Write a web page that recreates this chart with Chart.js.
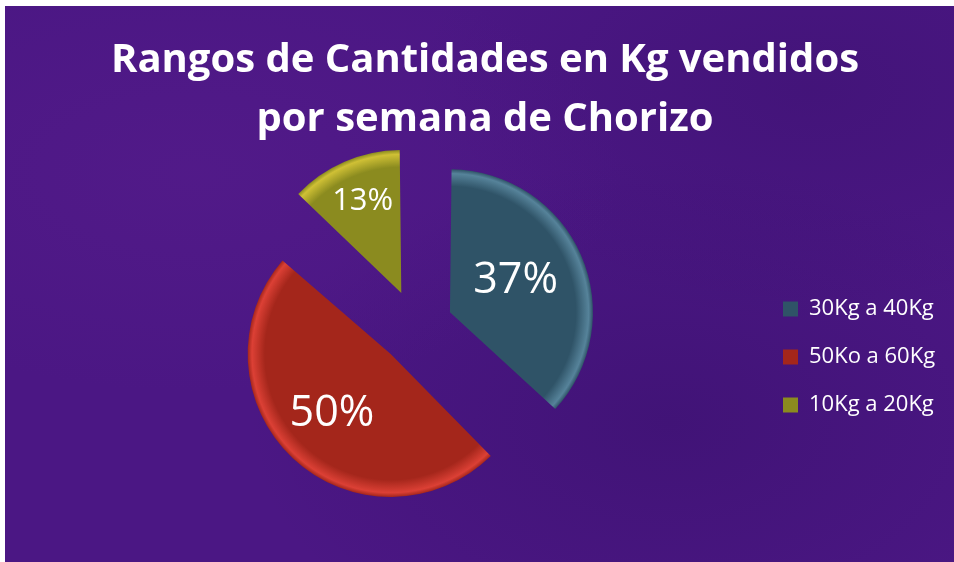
<!DOCTYPE html>
<html>
<head>
<meta charset="utf-8">
<script src="https://cdn.jsdelivr.net/npm/chart.js@4/dist/chart.umd.min.js"></script>
<style>
  body { margin: 0; background: #ffffff; }
  #marco {
    position: absolute; left: 5px; top: 6px; width: 949px; height: 556px;
    background-color: #4b1784;
    background-image:
      radial-gradient(ellipse at 20% 30%, rgba(100, 35, 150, 0.25), rgba(0, 0, 0, 0) 40%),
      radial-gradient(ellipse at 70% 75%, rgba(35, 8, 80, 0.25), rgba(0, 0, 0, 0) 45%),
      radial-gradient(ellipse at 85% 15%, rgba(35, 8, 80, 0.2), rgba(0, 0, 0, 0) 35%);
  }
</style>
</head>
<body>
<div id="marco"><canvas id="grafico"></canvas></div>
<script>
// datos
var titulo = ['Rangos de Cantidades en Kg vendidos', 'por semana de Chorizo'];
var rangos = ['30Kg a 40Kg', '50Ko a 60Kg', '10Kg a 20Kg'];
var porcentajes = [37, 50, 13];

// colores de cada rebanada
var colores = ['#2f5367', '#a4261b', '#8b8b1f'];
var bordes = ['#56839a', '#dc4035', '#cfc035'];

// posicion y tamaño de las etiquetas de porcentaje
var etiquetaRadio = [0.5, 0.6, 0.68];
var etiquetaFuente = [43, 43, 31];

var separacion = 37; // px que se separa cada rebanada
var fuenteLeyenda = 22;
var padLeyenda = 26;

// degradado radial para dar efecto de relieve
function relleno(context) {
  var chart = context.chart;
  var area = chart.chartArea;
  var base = colores[context.dataIndex];
  if (!area) { return base; }
  var cx = (area.left + area.right) / 2;
  var cy = (area.top + area.bottom) / 2;
  var g = chart.ctx.createRadialGradient(cx, cy, 0, cx, cy, 143);
  g.addColorStop(0, base);
  g.addColorStop(0.88, base);
  g.addColorStop(0.97, bordes[context.dataIndex]);
  g.addColorStop(1, base);
  return g;
}

// el offset de Chart.js agranda la rebanada, se corrige el radio
var corregirRadio = {
  id: 'corregirRadio',
  afterDatasetsUpdate: function (chart) {
    var meta = chart.getDatasetMeta(0);
    meta.data.forEach(function (arc) {
      var off = (arc.options.offset || 0) / 4;
      var fix = 1 - Math.sin(Math.min(Math.PI, arc.circumference));
      arc.outerRadius = arc.outerRadius - off * fix;
    });
  }
};

// titulo en dos lineas
var tituloPlugin = {
  id: 'tituloPlugin',
  afterDraw: function (chart) {
    var ctx = chart.ctx;
    ctx.save();
    ctx.fillStyle = '#ffffff';
    ctx.textAlign = 'center';
    ctx.textBaseline = 'alphabetic';
    ctx.font = 'bold 40px "Open Sans"';
    titulo.forEach(function (linea, i) {
      ctx.fillText(linea, 480, 66 + i * 59);
    });
    ctx.restore();
  }
};

// etiquetas de porcentaje dentro de cada rebanada
var etiquetas = {
  id: 'etiquetas',
  afterDatasetsDraw: function (chart) {
    var ctx = chart.ctx;
    var meta = chart.getDatasetMeta(0);
    var total = porcentajes.reduce(function (a, b) { return a + b; }, 0);
    ctx.save();
    ctx.fillStyle = '#ffffff';
    ctx.textAlign = 'center';
    ctx.textBaseline = 'middle';
    meta.data.forEach(function (arc, i) {
      var mitad = (arc.startAngle + arc.endAngle) / 2;
      var off = (arc.options.offset || 0) / 4;
      var radioReal = arc.outerRadius + off * (1 - Math.sin(Math.min(Math.PI, arc.circumference)));
      var d = off + radioReal * etiquetaRadio[i];
      var x = arc.x + Math.cos(mitad) * d;
      var y = arc.y + Math.sin(mitad) * d - 3;
      ctx.font = etiquetaFuente[i] + 'px "Open Sans"';
      ctx.fillText(Math.round(porcentajes[i] / total * 100) + '%', x, y);
    });
    ctx.restore();
  }
};

function crear() {
  // ancho de la leyenda para dejarla en su lugar (x = 778)
  var medidor = document.createElement('canvas').getContext('2d');
  medidor.font = fuenteLeyenda + 'px "Open Sans"';
  var anchoTexto = Math.max.apply(null, rangos.map(function (t) { return medidor.measureText(t).width; }));
  var anchoLeyenda = padLeyenda + 15 + fuenteLeyenda / 2 + anchoTexto + 10;
  var padDerecha = Math.max(0, 949 - (778 - padLeyenda) - anchoLeyenda);

  new Chart(document.getElementById('grafico'), {
    type: 'pie',
    data: {
      labels: rangos,
      datasets: [{
        data: porcentajes,
        backgroundColor: relleno,
        borderWidth: 0,
        offset: separacion * 4
      }]
    },
    options: {
      responsive: true,
      maintainAspectRatio: false,
      animation: false,
      radius: 143,
      layout: { padding: { left: 70, right: padDerecha, top: 206, bottom: 120 } },
      plugins: {
        tooltip: { enabled: false },
        title: { display: false },
        legend: {
          position: 'right',
          align: 'end',
          labels: {
            color: '#ffffff',
            font: { family: "'Open Sans'", size: fuenteLeyenda },
            boxWidth: 15,
            boxHeight: 15,
            padding: padLeyenda,
            generateLabels: function (chart) {
              var items = Chart.overrides.pie.plugins.legend.labels.generateLabels(chart);
              items.forEach(function (it, i) {
                it.fillStyle = colores[i];
                it.strokeStyle = colores[i];
                it.lineWidth = 0;
              });
              return items;
            }
          }
        }
      }
    },
    plugins: [corregirRadio, etiquetas, tituloPlugin]
  });
}

Promise.all([
  document.fonts.load('bold 40px "Open Sans"'),
  document.fonts.load('22px "Open Sans"')
]).then(crear, crear);
</script>
</body>
</html>
